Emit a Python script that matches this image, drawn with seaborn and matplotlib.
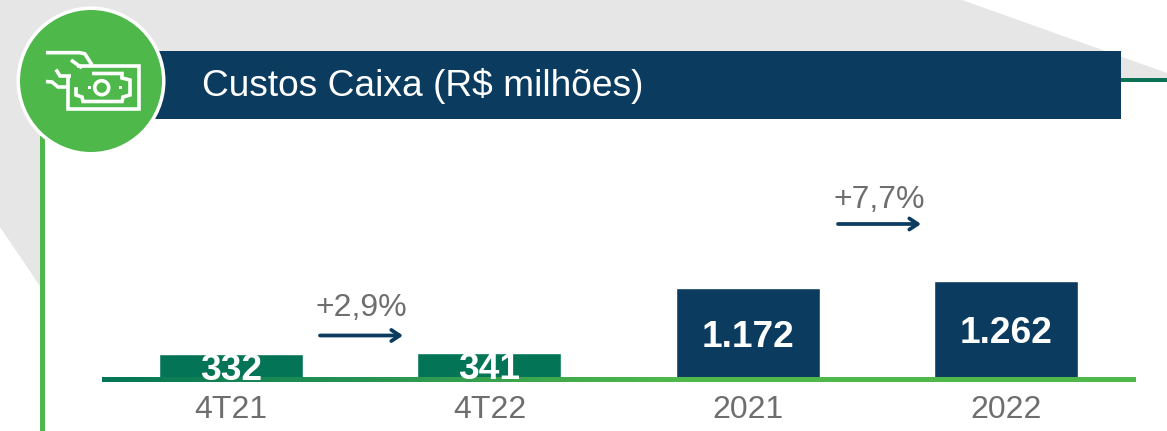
import numpy as np
import matplotlib
matplotlib.use('Agg')
import matplotlib.pyplot as plt
from matplotlib.colors import LinearSegmentedColormap
from matplotlib.patches import Circle, Polygon, Rectangle
import seaborn as sns

periods = ['4T21', '4T22', '2021', '2022']
costs = [332, 341, 1172, 1262]
cost_labels = ['332', '341', '1.172', '1.262']
changes = ['+2,9%', '+7,7%']
title = 'Custos Caixa (R$ milhões)'

NAVY = '#0b3c5f'
DARK_GREEN = '#037556'
GREEN = '#4fb84b'
GREY_BG = '#e6e6e6'
GREY_TEXT = '#6e6e6e'
W, H = 1167, 431

sns.set_style('white')
plt.rcParams['font.family'] = ['Liberation Sans', 'DejaVu Sans']

fig = plt.figure(figsize=((W + 0.01) / 100, (H + 0.01) / 100), dpi=100)
fig.patch.set_facecolor('white')

# background and header, drawn in pixel coordinates
deco = fig.add_axes([0, 0, 1, 1], zorder=0)
deco.set_xlim(0, W)
deco.set_ylim(H, 0)
deco.axis('off')
deco.add_patch(Polygon([(0, 0), (962, 0), (1167, 73), (1167, 80), (1121, 80), (1121, 119),
                        (42, 119), (42, 289), (0, 227)], color=GREY_BG, lw=0))
deco.add_patch(Rectangle((40, 136), 4.5, 295, color=GREEN, lw=0))
deco.add_patch(Rectangle((1121, 78), 46, 4, color='#0a7355', lw=0))
deco.add_patch(Rectangle((150, 51), 971, 68, color=NAVY, lw=0))
deco.add_patch(Circle((91, 81), 74.5, color='white', lw=0))
deco.add_patch(Circle((91, 81), 71, color=GREEN, lw=0))
deco.text(202, 86, title, color='white', fontsize=26.7, va='center', ha='left')

# money icon
icon_paths = [
    [(46, 52.7), (80, 52.7), (85, 54), (92, 65)],
    [(71, 60), (82, 68)],
    [(56, 69.5), (60, 76), (71, 76)],
    [(46, 81.5), (52, 82), (58, 87), (68, 87)],
    [(77, 66.5), (139, 66.5), (139, 109.5), (68, 109.5), (68, 76)],
    [(92, 73.5), (122, 73.5), (122, 78), (130, 80), (130, 95), (123, 97), (122, 101.5),
     (83, 101.5), (82, 97), (76, 95), (76, 87)],
]
for path in icon_paths:
    xs, ys = zip(*path)
    deco.plot(xs, ys, color='white', lw=2.6, solid_joinstyle='miter', solid_capstyle='butt')
deco.add_patch(Circle((101.7, 87.7), 7, fill=False, ec='white', lw=2.6))
deco.add_patch(Rectangle((87.5, 86.5), 3, 3, color='white', lw=0))
deco.add_patch(Rectangle((118.5, 86.5), 3, 3, color='white', lw=0))

# change arrows and their labels
for change, x0, y_text, y_arrow in zip(changes, [320, 838], [307.5, 199.5], [335.5, 224]):
    deco.text(x0 + 41, y_text, change, color=GREY_TEXT, fontsize=23, ha='center', va='center')
    deco.annotate('', xy=(x0 + 83, y_arrow), xytext=(x0, y_arrow),
                  arrowprops=dict(arrowstyle='->,head_length=0.6,head_width=0.4',
                                  color=NAVY, lw=2.7, shrinkA=0, shrinkB=0))

# bars: the axes run from y=0 px to y=382 px, xlim spans 102 to 1135 px
ax = fig.add_axes([102 / W, 1 - 382 / H, (1135 - 102) / W, 382 / H], zorder=1)
ax.patch.set_alpha(0)
sns.barplot(x=periods, y=costs, hue=periods, palette=[DARK_GREEN, DARK_GREEN, NAVY, NAVY],
            legend=False, width=0.558, ax=ax, saturation=1)
y_low, y_high = -26, 4840
baseline_cmap = LinearSegmentedColormap.from_list(
    'baseline', [(0, DARK_GREEN), (0.55, GREEN), (1, GREEN)])
ax.imshow(np.linspace(0, 1, 256).reshape(1, -1), cmap=baseline_cmap, aspect='auto',
          extent=(-0.5, 3.5, -26, 26), zorder=3)
ax.set_xlim(-0.5, 3.5)
ax.set_ylim(y_low, y_high)
for i, (value, label) in enumerate(zip(costs, cost_labels)):
    ax.annotate(label, (i, value / 2), xytext=(0, -2.4), textcoords='offset points', color='white',
                fontsize=26.7, fontweight='bold', ha='center', va='center', zorder=4)
ax.set_yticks([])
ax.set_xticks(range(len(periods)), periods)
ax.tick_params(axis='x', length=0, pad=9, labelsize=23, labelcolor=GREY_TEXT)
ax.set_xlabel('')
ax.set_ylabel('')
sns.despine(ax=ax, left=True, bottom=True)

fig.savefig('out.png', dpi=100)
